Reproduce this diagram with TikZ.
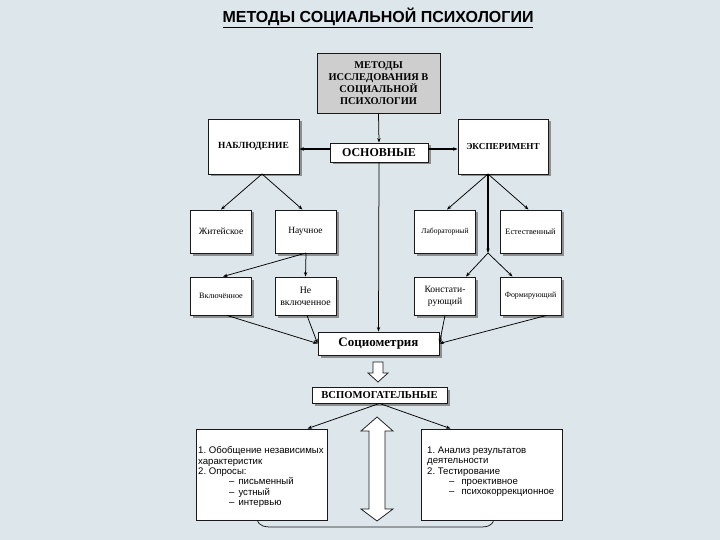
\documentclass[tikz,border=0pt]{standalone}
\usepackage{fontspec}
\setmainfont{Liberation Serif}
\setsansfont{Liberation Sans}
\usetikzlibrary{arrows.meta,shadows}
\definecolor{bgc}{RGB}{221,230,234}
\definecolor{topfill}{RGB}{206,206,206}
\frenchspacing
\begin{document}
\begin{tikzpicture}[x=1pt,y=-1pt,
  box/.style={draw=black!90,line width=0.9pt,fill=white,inner sep=1pt,align=center},
  shbox/.style={box,drop shadow={shadow xshift=2.5pt,shadow yshift=-2.5pt,fill=black!55,opacity=0.75}},
  conn/.style={line width=0.75pt,draw=black,-{Stealth[length=4.5pt,width=3.4pt]}},
  thickconn/.style={line width=1.5pt,draw=black,-{Stealth[length=4.5pt,width=3.6pt]}},
  hollow/.style={draw=black!90,line width=0.75pt,fill=white,line join=miter},
  txtb/.style={font=\bfseries\fontsize{#1}{12}\selectfont},
  txtr/.style={font=\fontsize{#1}{12}\selectfont},
  rowbox/.style={shbox,minimum width=61pt},
  listtxt/.style={inner sep=0pt,anchor=north west,align=left,font=\sffamily\fontsize{9.6}{10.4}\selectfont}
]
\fill[bgc] (0,0) rectangle (720,540);
\useasboundingbox (0,0) rectangle (720,540);

% title
\node (title) at (378,18) {\sffamily\bfseries\fontsize{16}{18}\selectfont\underline{МЕТОДЫ СОЦИАЛЬНОЙ ПСИХОЛОГИИ}};

% top level
\node[box,fill=topfill,minimum width=123pt,minimum height=60pt,txtb=10.4] (top) at (378.5,83)
  {МЕТОДЫ\\ИССЛЕДОВАНИЯ В\\СОЦИАЛЬНОЙ\\ПСИХОЛОГИИ};
\node[shbox,minimum width=91pt,minimum height=55pt,txtb=9.4] (nab) at (253.5,146.5) {НАБЛЮДЕНИЕ};
\node[shbox,minimum width=90pt,minimum height=55pt,txtb=9.2] (eksp) at (503,146.5) {ЭКСПЕРИМЕНТ};
\node[shbox,minimum width=98pt,minimum height=19pt,txtb=12] (osn) at (379,152.5) {ОСНОВНЫЕ};

% second row
\node[rowbox,minimum height=43pt,txtr=9.5] (zhit) at (221,231.5) {Житейское};
\node[rowbox,minimum height=43pt,txtr=9.5] (nauch) at (305.5,231.5) {Научное};
\node[rowbox,minimum height=43pt,txtr=7.6] (lab) at (445,231.5) {Лабораторный};
\node[rowbox,minimum height=43pt,txtr=8.3] (est) at (530.5,231.5) {Естественный};

% third row
\node[rowbox,minimum height=38pt,txtr=8.2] (vkl) at (221,296) {Включённое};
\node[rowbox,minimum height=38pt,txtr=9.8] (nevkl) at (305.5,296) {Не\\включенное};
\node[rowbox,minimum height=38pt,txtr=9.6] (konst) at (445,296) {Констати-\\рующий};
\node[rowbox,minimum height=38pt,txtr=7.9] (form) at (530.5,296) {Формирующий};

% sociometry and auxiliary
\node[shbox,minimum width=121pt,minimum height=23pt,txtb=13] (socio) at (378.5,343.5) {Социометрия};
\node[shbox,minimum width=135pt,minimum height=16pt,txtb=10.6] (vspom) at (379.5,395) {ВСПОМОГАТЕЛЬНЫЕ};

% bottom bracket (behind boxes)
\coordinate (brL) at (257,519);
\coordinate (brR) at (494,519);
\draw[line width=0.75pt,black!90] (brL) .. controls (259,527) and (265,527) .. (275,527) -- (476,527) .. controls (487,527) and (492,527) .. (brR);

% bottom boxes
\node[box,minimum width=131pt,minimum height=91pt] (lbox) at (261.5,474.5) {};
\node[box,minimum width=141pt,minimum height=91pt] (rbox) at (491.5,474.5) {};
\node[listtxt] (ltext) at (198,446.5) {1. Обобщение независимых\\характеристик\\2. Опросы:\\\hspace*{31pt}–\hspace{4pt}письменный\\\hspace*{31pt}–\hspace{4pt}устный\\\hspace*{31pt}–\hspace{4pt}интервью};
\node[listtxt] (rtext) at (427,446.5) {1. Анализ результатов\\деятельности\\2. Тестирование\\\hspace*{22pt}–\hspace{7pt}проективное\\\hspace*{22pt}–\hspace{7pt}психокоррекционное};

% connectors
\draw[conn] (top.south) -- (osn.north);
\coordinate (osnW) at ([yshift=3.5pt]osn.west);
\coordinate (osnE) at ([yshift=3.5pt]osn.east);
\draw[thickconn] (osnW) -- (nab.east |- osnW);
\draw[thickconn] (osnE) -- (eksp.west |- osnE);
\draw[conn] (osn.south) -- (socio.north);

\coordinate (nabB) at (262,174);
\draw[conn] (nabB) -- (zhit.north);
\draw[conn] (nabB) -- ([xshift=-3pt]nauch.north);

\coordinate (nauchB) at (306,253);
\draw[conn] (nauchB) -- ([xshift=2pt]vkl.north);
\draw[conn] (nauchB) -- (nevkl.north);

\coordinate (ekspB) at (488,174);
\coordinate (junc) at (488,253);
\draw[conn] (ekspB) -- ([xshift=2pt]lab.north);
\draw[conn] (ekspB) -- ([xshift=-2pt]est.north);
\draw[conn,line width=1.1pt] (ekspB) -- (junc);
\draw[conn] (junc) -- ([xshift=21pt]konst.north);
\draw[conn] (junc) -- ([xshift=-18pt]form.north);

\draw[conn] ([xshift=6pt]vkl.south) -- (socio.west);
\draw[conn] ([xshift=1.5pt]nevkl.south) -- (socio.west);
\draw[conn] (konst.south) -- (socio.east);
\draw[conn] ([xshift=16pt]form.south) -- (socio.east);

\draw[conn] (vspom.south) -- ([xshift=46pt]lbox.north);
\draw[conn] (vspom.south) -- ([xshift=-41pt]rbox.north);

% hollow arrow socio -> vspom
\draw[hollow] (373,362) -- (383,362) -- (383,373) -- (388,373) -- (378,382) -- (368,373) -- (373,373) -- cycle;

% double hollow arrow
\draw[hollow] (377,417) -- (393,431) -- (385,431) -- (385,509) -- (393,509) -- (377,521) -- (361,509) -- (369,509) -- (369,431) -- (361,431) -- cycle;
\end{tikzpicture}
\end{document}
